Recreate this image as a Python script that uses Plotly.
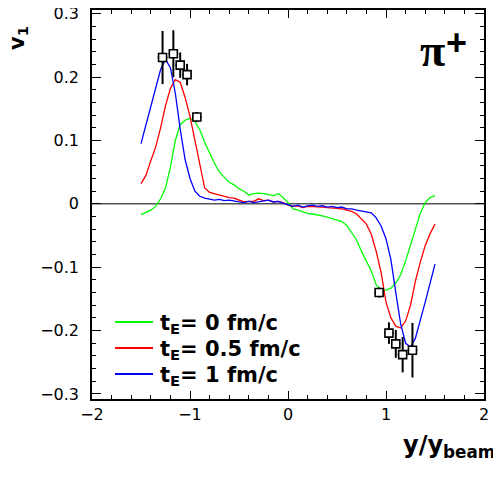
import plotly.graph_objects as go

# ---- data ----
x_model = [-1.50, -1.45, -1.40, -1.35, -1.30, -1.25, -1.20, -1.15, -1.10, -1.05,
           -1.00, -0.95, -0.90, -0.85, -0.80, -0.75, -0.70, -0.65, -0.60, -0.55,
           -0.50, -0.45, -0.40, -0.35, -0.30, -0.25, -0.20, -0.15, -0.10, -0.05,
           0.00, 0.05, 0.10, 0.15, 0.20, 0.25, 0.30, 0.35, 0.40, 0.45,
           0.50, 0.55, 0.60, 0.65, 0.70, 0.75, 0.80, 0.85, 0.90, 0.95,
           1.00, 1.05, 1.10, 1.15, 1.20, 1.25, 1.30, 1.35, 1.40, 1.45, 1.50]

v1_tE0 = [-0.017, -0.014, -0.010, -0.004, 0.008, 0.025, 0.058, 0.100, 0.125, 0.132,
          0.135, 0.130, 0.117, 0.097, 0.080, 0.064, 0.050, 0.042, 0.034, 0.030,
          0.024, 0.020, 0.014, 0.016, 0.017, 0.016, 0.015, 0.013, 0.016, 0.010,
          0.002, -0.008, -0.010, -0.013, -0.015, -0.016, -0.017, -0.019, -0.021, -0.023,
          -0.025, -0.028, -0.034, -0.045, -0.057, -0.075, -0.090, -0.106, -0.128, -0.136,
          -0.136, -0.133, -0.125, -0.112, -0.090, -0.065, -0.040, -0.015, 0.002, 0.010, 0.013]

v1_tE05 = [0.032, 0.045, 0.068, 0.090, 0.120, 0.155, 0.182, 0.196, 0.192, 0.168,
           0.138, 0.100, 0.058, 0.025, 0.018, 0.016, 0.013, 0.011, 0.010, 0.009,
           0.006, 0.003, 0.004, 0.004, 0.008, 0.005, 0.006, 0.003, 0.004, 0.002,
           -0.002, -0.004, -0.003, -0.006, -0.004, -0.004, -0.005, -0.005, -0.006, -0.006,
           -0.007, -0.008, -0.010, -0.012, -0.016, -0.024, -0.032, -0.048, -0.075, -0.108,
           -0.155, -0.180, -0.193, -0.196, -0.185, -0.160, -0.122, -0.092, -0.066, -0.047, -0.032]

v1_tE1 = [0.095, 0.125, 0.155, 0.185, 0.212, 0.228, 0.215, 0.175, 0.118, 0.070,
          0.040, 0.020, 0.012, 0.009, 0.008, 0.006, 0.007, 0.005, 0.006, 0.004,
          0.003, 0.002, 0.004, 0.002, 0.003, 0.004, 0.006, 0.003, 0.004, 0.001,
          -0.002, -0.004, -0.002, -0.005, -0.003, -0.002, -0.004, -0.003, -0.005, -0.004,
          -0.006, -0.005, -0.008, -0.008, -0.010, -0.011, -0.012, -0.014, -0.022, -0.035,
          -0.055, -0.088, -0.140, -0.190, -0.220, -0.226, -0.212, -0.185, -0.155, -0.125, -0.095]

x_data = [-1.28, -1.17, -1.10, -1.03, -0.93, 0.93, 1.03, 1.10, 1.17, 1.27]
v1_data = [0.231, 0.237, 0.219, 0.204, 0.137, -0.140, -0.204, -0.221, -0.238, -0.231]
v1_err = [0.042, 0.037, 0.020, 0.017, 0.008, 0.008, 0.017, 0.022, 0.028, 0.043]
x_err = [0.05] * len(x_data)

legend_labels = ["t<sub>E</sub>= 0 fm/c", "t<sub>E</sub>= 0.5 fm/c", "t<sub>E</sub>= 1 fm/c"]
colors = ["#00ff00", "#ff0000", "#0000ff"]
series = [v1_tE0, v1_tE05, v1_tE1]

SANS = "DejaVu Sans"

fig = go.Figure()

for vals, col in zip(series, colors):
    fig.add_trace(go.Scatter(x=x_model, y=vals, mode="lines",
                             line=dict(color=col, width=1.3), showlegend=False))

fig.add_trace(go.Scatter(
    x=x_data, y=v1_data, mode="markers",
    marker=dict(symbol="square", size=8, color="white",
                line=dict(color="black", width=1.6)),
    error_y=dict(type="data", array=v1_err, color="black", thickness=2, width=0),
    error_x=dict(type="data", array=x_err, color="black", thickness=1.5, width=0),
    showlegend=False))

# zero line
fig.add_shape(type="line", xref="x", yref="y", x0=-2, x1=2, y0=0, y1=0,
              line=dict(color="#555555", width=1.5), layer="below")

# page offset (browser body margin)
OFF = 8
FW, FH = 501 - OFF, 478 - OFF
L, R, T, B = 92 - OFF, 484 - OFF, 10 - OFF, 399 - OFF
W, H = R - L, B - T
def px(xp):
    return (xp - OFF - L) / W
def py(yp):
    return (B - (yp - OFF)) / H

ann = []
for i, (lab, col) in enumerate(zip(legend_labels, colors)):
    yp = 322 + 26 * i
    fig.add_shape(type="line", xref="paper", yref="paper",
                  x0=px(115), x1=px(153), y0=py(yp), y1=py(yp),
                  line=dict(color=col, width=2))
    ann.append(dict(x=px(158), y=py(yp + 2), xref="paper", yref="paper",
                    text="<b>" + lab + "</b>", showarrow=False,
                    xanchor="left", yanchor="middle",
                    font=dict(family=SANS, size=21, color="black")))

ann.append(dict(x=px(432), y=py(50), xref="paper", yref="paper", text="<b>π</b>",
                showarrow=False, xanchor="center", yanchor="middle",
                font=dict(family="Liberation Serif", size=46, color="black")))
ann.append(dict(x=px(456), y=py(43), xref="paper", yref="paper", text="<b>+</b>",
                showarrow=False, xanchor="center", yanchor="middle",
                font=dict(family="Liberation Sans", size=36, color="black")))
ann.append(dict(x=px(18), y=py(38), xref="paper", yref="paper",
                text="<b>v<sub>1</sub></b>", textangle=-90,
                showarrow=False, xanchor="center", yanchor="middle",
                font=dict(family=SANS, size=21, color="black")))
ann.append(dict(x=px(497), y=py(447), xref="paper", yref="paper",
                text="<b>y/y<sub>beam</sub></b>",
                showarrow=False, xanchor="right", yanchor="middle",
                font=dict(family=SANS, size=24, color="black")))

fig.update_layout(
    width=FW, height=FH,
    margin=dict(l=L, r=FW - R, t=T, b=FH - B, pad=0, autoexpand=False),
    paper_bgcolor="white", plot_bgcolor="white",
    annotations=ann,
    font=dict(family=SANS, size=16, color="black"),
    xaxis=dict(range=[-2, 2], dtick=1, tick0=0, ticks="inside", ticklen=8,
               tickwidth=1, tickcolor="black", showline=True, linecolor="black",
               linewidth=1.5, mirror="ticks", showgrid=False, zeroline=False,
               automargin=False,
               minor=dict(dtick=0.2, ticks="inside", ticklen=4, tickcolor="black",
                          showgrid=False),
               tickfont=dict(family=SANS, size=16), ticklabeloverflow="allow"),
    yaxis=dict(range=[-0.308, 0.306], dtick=0.1, tick0=0, ticks="inside", ticklen=9,
               tickwidth=1, tickcolor="black", showline=True, linecolor="black",
               linewidth=1.5, mirror="ticks", showgrid=False, zeroline=False,
               automargin=False,
               minor=dict(dtick=0.02, ticks="inside", ticklen=4, tickcolor="black",
                          showgrid=False),
               tickfont=dict(family=SANS, size=16), ticklabelstandoff=8,
               ticklabeloverflow="allow"),
)

fig.write_html("out.html")
